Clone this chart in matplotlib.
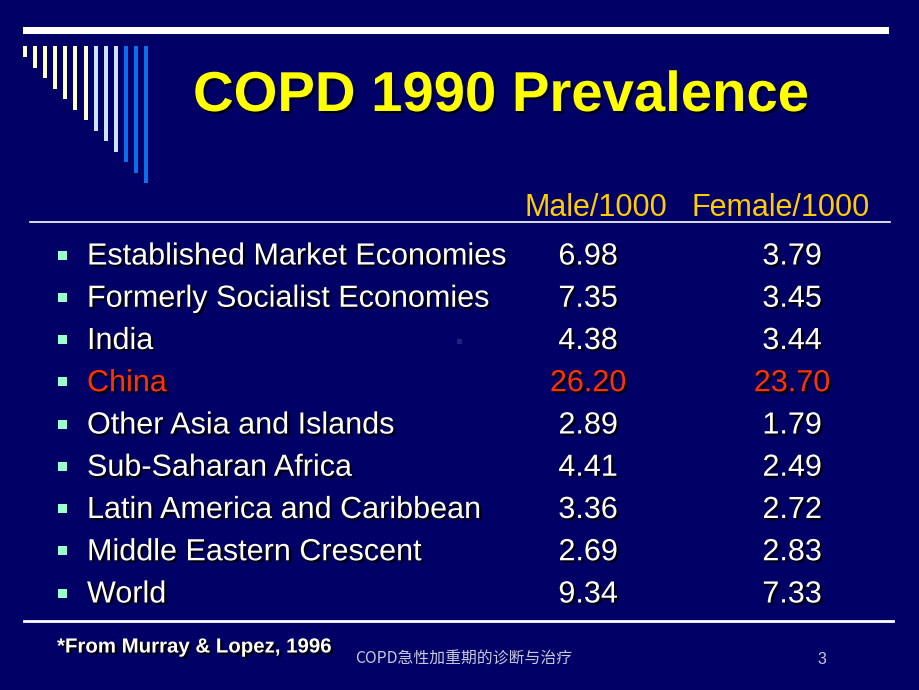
import matplotlib.pyplot as plt
import matplotlib.patheffects as pe
from matplotlib.patches import Rectangle

# data
regions = ['Established Market Economies', 'Formerly Socialist Economies', 'India', 'China',
           'Other Asia and Islands', 'Sub-Saharan Africa', 'Latin America and Caribbean',
           'Middle Eastern Crescent', 'World']
male = ['6.98', '7.35', '4.38', '26.20', '2.89', '4.41', '3.36', '2.69', '9.34']
female = ['3.79', '3.45', '3.44', '23.70', '1.79', '2.49', '2.72', '2.83', '7.33']
headers = ['Male/1000', 'Female/1000']
title = 'COPD 1990 Prevalence'
source = '*From Murray & Lopez, 1996'
footer = 'COPD急性加重期的诊断与治疗'
page = '3'

bg = '#000066'
fig = plt.figure(figsize=(9.2, 6.9), dpi=100, facecolor=bg)
ax = fig.add_axes([0, 0, 1, 1])
ax.set_xlim(0, 920)
ax.set_ylim(690, 0)
ax.axis('off')
ax.set_facecolor(bg)

shadow = [pe.withSimplePatchShadow(offset=(1.6, -1.6), shadow_rgbFace='black', alpha=0.9)]

# top decoration
ax.add_patch(Rectangle((23, 27), 866, 7, color='white', lw=0))
bar_cols = ['#FFFFCC'] * 7 + ['#CCE5FF'] * 3 + ['#0A6FE8'] * 3
for k, c in enumerate(bar_cols):
    x = 23 + k * 10.1
    ax.add_patch(Rectangle((x, 46), 4, 11 + k * 10.5, color=c, lw=0))

ax.text(501, 97, title, color='#FFFF00', fontsize=40.5, fontweight='bold',
        family='Liberation Sans', ha='center', va='center', path_effects=shadow)

# headers
hx = [596, 781]
for x, h in zip(hx, headers):
    ax.text(x, 208, h, color='#FFCC00', fontsize=22, family='Liberation Sans',
            ha='center', va='center')
ax.plot([30, 890], [222, 222], color='white', lw=1.2)

# rows
fs = 22
for i, name in enumerate(regions):
    y = 255 + i * 42.25
    col = '#FF3300' if name == 'China' else 'white'
    ax.add_patch(Rectangle((58, y - 4.5), 9, 9, color='#99FFCC', lw=0))
    ax.text(87, y + 1.5, name, color=col, fontsize=fs, family='Liberation Sans',
            ha='left', va='center', path_effects=shadow)
    ax.text(588, y + 1.5, male[i], color=col, fontsize=fs, family='Liberation Sans',
            ha='center', va='center', path_effects=shadow)
    ax.text(792, y + 1.5, female[i], color=col, fontsize=fs, family='Liberation Sans',
            ha='center', va='center', path_effects=shadow)

ax.add_patch(Rectangle((457, 339), 5, 5, color='#22227A', lw=0))

ax.plot([24, 893], [621, 621], color='white', lw=2)
ax.text(57, 647, source, color='white', fontsize=14.7, fontweight='bold',
        family='Liberation Sans', ha='left', va='center', path_effects=shadow)
ax.text(355, 659, footer, color='#C8C8DC', fontsize=11.4,
        family=['Noto Sans CJK SC', 'DejaVu Sans'], ha='left', va='center')
ax.text(822, 659, page, color='#C8C8DC', fontsize=11.4, family='Liberation Sans',
        ha='center', va='center')

fig.savefig('out.png', dpi=100, facecolor=bg)
